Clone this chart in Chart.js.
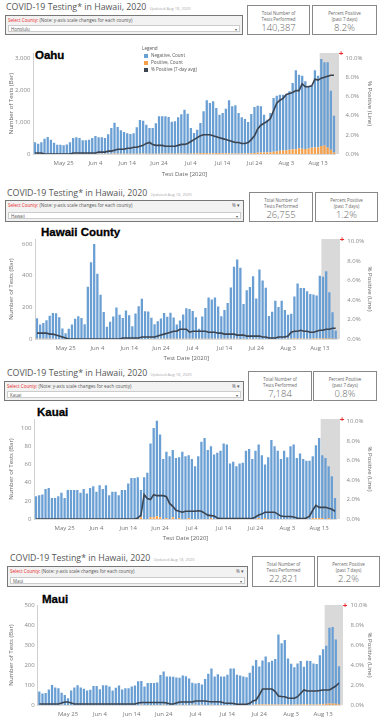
<!DOCTYPE html>
<html>
<head>
<meta charset="utf-8">
<script src="https://cdn.jsdelivr.net/npm/chart.js@4.4.1/dist/chart.umd.min.js"></script>
<style>
  html, body { margin: 0; padding: 0; background: #fff; }
  body { width: 381px; height: 720px; position: relative; overflow: hidden; font-family: 'Open Sans', 'Lato', sans-serif; }
  .abs { position: absolute; }
  .ttl { font-size: 8.8px; line-height: 13px; color: #555; white-space: nowrap; }
  .ttl small { font-size: 4px; color: #aaa; margin-left: 3px; }
  .sel { position: absolute; border: 1px solid #777; background: #f2f2f2; box-sizing: border-box; }
  .sel .r1 { position: absolute; left: 2px; top: 1px; font-size: 4.6px; line-height: 7px; color: #555; white-space: nowrap; }
  .sel .r1 b { color: #e8282b; font-weight: 400; }
  .sel .ic { position: absolute; right: 3px; top: 1px; font-size: 4.6px; line-height: 7px; color: #555; }
  .sel .r2 { position: absolute; left: 2px; right: 2px; bottom: 2px; height: 7px; background: #fff; border: 1px solid #ccc;
             font-size: 4.4px; line-height: 7px; color: #555; padding-left: 2px; box-sizing: border-box; }
  .sel .r2 span { position: absolute; right: 2px; top: 0; }
  .card { position: absolute; border: 1px solid #888; box-sizing: border-box; text-align: center; color: #666; background: #fff; }
  .card .l { font-size: 4.4px; line-height: 6px; margin-top: 4px; }
  .card .v { font-size: 9.5px; line-height: 11px; margin-top: 0px; font-weight: 300; }
  .cty { position: absolute; font-family: 'Liberation Sans', Arial, sans-serif; font-weight: 700; font-size: 11.5px; line-height: 14px; color: #000; -webkit-text-stroke: 0.3px #000; }
  .legend { font-size: 4.6px; color: #555; line-height: 7px; }
  .legend i { display: inline-block; width: 4px; height: 4px; margin: 0 3px 0 2px; vertical-align: -0.5px; }
  canvas { position: absolute; left: 0; }
</style>
</head>
<body>

<!-- Oahu -->
<div class="abs ttl" style="left:6px;top:1px;">COVID-19 Testing* in Hawaii, 2020<small>Updated Aug 18, 2020</small></div>
<div class="sel" style="left:5px;top:15px;width:238px;height:20px;">
  <div class="r1"><b>Select County:</b> (Note: y-axis scale changes for each county)</div>
  <div class="r2">Honolulu<span>▾</span></div>
</div>
<div class="card" style="left:247px;top:5px;width:63px;height:30px;"><div class="l">Total Number of<br>Tests Performed</div><div class="v">140,387</div></div>
<div class="card" style="left:312px;top:5px;width:65px;height:30px;"><div class="l">Percent Positive<br>(past 7 days)</div><div class="v">8.2%</div></div>
<div class="cty" style="left:35px;top:48px;">Oahu</div>
<canvas id="oahu" width="381" height="144" style="top:36px"></canvas>
<div class="abs legend" style="left:142px;top:45px;">
  <div>Legend</div>
  <div><i style="background:#6a9fd4"></i>Negative, Count</div>
  <div><i style="background:#f5a04a"></i>Positive, Count</div>
  <div><i style="background:#3b4450"></i>% Positive (7-day avg)</div>
</div>

<!-- Hawaii -->
<div class="abs ttl" style="left:7px;top:187px;">COVID-19 Testing* in Hawaii, 2020<small>Updated Aug 18, 2020</small></div>
<div class="sel" style="left:5px;top:200px;width:239px;height:22px;">
  <div class="r1"><b>Select County:</b> (Note: y-axis scale changes for each county)</div>
  <div class="ic">% ▾</div>
  <div class="r2">Hawaii<span>▾</span></div>
</div>
<div class="card" style="left:249px;top:192px;width:64px;height:30px;"><div class="l">Total Number of<br>Tests Performed</div><div class="v">26,755</div></div>
<div class="card" style="left:315px;top:192px;width:63px;height:30px;"><div class="l">Percent Positive<br>(past 7 days)</div><div class="v">1.2%</div></div>
<div class="cty" style="left:41px;top:225px;">Hawaii County</div>
<canvas id="hawaii" width="381" height="139" style="top:225px"></canvas>

<!-- Kauai -->
<div class="abs ttl" style="left:7px;top:367px;">COVID-19 Testing* in Hawaii, 2020<small>Updated Aug 18, 2020</small></div>
<div class="sel" style="left:4px;top:381px;width:240px;height:20px;">
  <div class="r1"><b>Select County:</b> (Note: y-axis scale changes for each county)</div>
  <div class="ic">% ▾</div>
  <div class="r2">Kauai<span>▾</span></div>
</div>
<div class="card" style="left:248px;top:371px;width:64px;height:30px;"><div class="l">Total Number of<br>Tests Performed</div><div class="v">7,184</div></div>
<div class="card" style="left:313px;top:371px;width:64px;height:30px;"><div class="l">Percent Positive<br>(past 7 days)</div><div class="v">0.8%</div></div>
<div class="cty" style="left:37px;top:405px;">Kauai</div>
<canvas id="kauai" width="381" height="139" style="top:405px"></canvas>

<!-- Maui -->
<div class="abs ttl" style="left:10px;top:552px;">COVID-19 Testing* in Hawaii, 2020<small>Updated Aug 18, 2020</small></div>
<div class="sel" style="left:7px;top:566px;width:241px;height:21px;">
  <div class="r1"><b>Select County:</b> (Note: y-axis scale changes for each county)</div>
  <div class="ic">% ▾</div>
  <div class="r2">Maui<span>▾</span></div>
</div>
<div class="card" style="left:252px;top:556px;width:63px;height:31px;"><div class="l">Total Number of<br>Tests Performed</div><div class="v">22,821</div></div>
<div class="card" style="left:317px;top:556px;width:63px;height:31px;"><div class="l">Percent Positive<br>(past 7 days)</div><div class="v">2.2%</div></div>
<div class="cty" style="left:42px;top:592px;">Maui</div>
<canvas id="maui" width="381" height="130" style="top:590px"></canvas>

<script>
// Test dates: May 16 .. Aug 18, 2020 (one bar per day)
const dayCount = 95;
const dates = [];
for (let i = 0; i < dayCount; i++) {
  const d = new Date(2020, 4, 16 + i);
  dates.push(d.toLocaleDateString('en-US', { month: 'short', day: 'numeric' }));
}
const tickDates = ['May 25', 'Jun 4', 'Jun 14', 'Jun 24', 'Jul 4', 'Jul 14', 'Jul 24', 'Aug 3', 'Aug 13'];
const shadeFrom = 'Aug 14'; // last days, results still coming in
const pctTicks = [0, 2, 4, 6, 8, 10];

// Oahu (Honolulu)
const oahuTicks = [0, 1000, 2000, 3000];
const oahuNegative = [
  362,321,362,475,527,445,352,290,290,270,298,362,496,517,497,424,
  425,445,496,559,517,516,494,607,802,967,835,733,682,641,620,644,825,1052,1030,906,802,803,950,1167,1164,1163,1143,998,1010,1132,
  1224,1371,1249,800,640,736,939,1302,1649,1568,1621,1410,1197,1254,1391,1655,1472,1504,1265,1131,1080,984,1228,1439,1472,1442,1184,1029,1225,1680,1741,
  1756,1742,1734,1824,2069,2463,2303,2282,2111,1965,1940,2409,2234,2721,2603,2660,1849,1150
];
const oahuPositive = [
  3,2,3,4,4,3,2,2,2,1,2,3,4,4,3,3,
  2,3,4,3,4,5,6,8,10,12,9,7,6,5,5,6,8,10,12,11,10,9,8,10,13,14,13,12,11,14,
  16,14,11,12,16,24,30,31,28,26,25,28,32,27,26,22,18,17,16,15,14,16,22,30,38,48,45,44,56,70,82,
  98,112,120,134,150,152,176,166,160,170,195,206,214,248,262,205,130,48
];
const oahuPct = [
  0.1,0.1,0.1,0,0,0,0,0,0,0,0,0,0.1,0.1,0.1,0.1,
  0.1,0.1,0.1,0.1,0.2,0.2,0.2,0.3,0.3,0.4,0.5,0.5,0.5,0.6,0.6,0.7,0.7,0.8,0.9,1.1,1.2,1.0,0.9,0.9,0.9,0.8,0.8,0.8,0.8,0.9,
  1.0,1.0,1.1,1.3,1.5,1.7,1.9,2.0,2.0,2.0,1.9,1.8,1.7,1.6,1.5,1.4,1.3,1.2,1.2,1.1,1.1,1.2,1.5,1.9,2.6,3.0,3.2,3.4,3.7,4.5,5.3,
  5.6,5.8,6.2,6.3,6.4,6.6,6.6,7.3,7.0,7.0,7.1,7.8,7.7,7.9,8.0,8.1,8.2,8.2
];

// Hawaii County
const hawaiiTicks = [0, 200, 400, 600];
const hawaiiNegative = [
  130,90,100,117,146,163,163,138,67,36,65,92,128,144,132,94,
  330,485,600,412,280,170,77,109,142,199,153,132,180,150,80,161,207,255,176,174,134,94,111,128,163,140,165,134,90,115,
  153,192,188,176,136,63,140,195,262,249,262,205,142,182,226,324,456,502,450,220,308,328,397,255,439,370,324,146,172,241,203,
  241,182,153,157,266,349,320,320,299,282,278,272,397,391,425,293,167,52
];
const hawaiiPositive = [
  1,1,1,1,1,1,0,0,0,0,0,0,0,0,0,0,
  0,0,0,0,0,0,0,0,0,0,0,0,0,0,0,0,0,0,0,0,1,0,1,1,1,1,1,2,2,2,
  2,2,1,1,1,1,2,1,1,1,1,1,1,2,2,1,1,1,0,1,0,1,0,1,0,0,0,0,0,0,0,
  0,1,1,2,3,2,3,2,2,2,3,3,3,3,3,3,2,1
];
const hawaiiPct = [
  0.6,0.6,0.6,0.6,0.5,0.5,0.4,0.3,0.2,0.1,0,0,0,0,0,0,
  0,0,0,0,0,0,0,0,0,0,0,0.1,0.1,0.1,0.1,0.1,0.1,0.2,0.2,0.2,0.2,0.2,0.3,0.4,0.5,0.6,0.7,0.8,0.8,1.0,
  1.0,1.0,0.7,0.8,0.8,0.8,0.8,0.8,0.7,0.7,0.7,0.6,0.6,0.5,0.5,0.5,0.5,0.4,0.4,0.4,0.3,0.3,0.3,0.3,0.3,0.2,0.2,0.1,0.1,0.1,0.2,
  0.2,0.2,0.3,0.7,0.8,0.8,0.9,0.8,0.8,0.7,0.7,0.8,0.9,0.9,1.0,1.0,1.1,1.1
];

// Kauai
const kauaiTicks = [0, 20, 40, 60, 80, 100];
const kauaiNegative = [
  25,26,27,33,34,23,23,25,29,23,32,32,32,32,29,33,
  28,34,36,30,37,33,37,26,30,30,26,32,32,39,45,45,46,30,46,51,81,98,105,91,66,73,69,74,67,67,
  74,69,69,66,58,69,85,89,76,79,71,73,75,83,82,61,63,58,61,62,75,77,66,75,81,70,59,68,87,80,75,
  66,75,68,80,82,67,72,66,64,64,68,80,88,69,67,57,47,23
];
const kauaiPositive = [
  0,0,0,0,0,0,0,0,0,0,0,0,0,0,0,0,
  0,0,0,0,0,0,0,0,0,0,0,0,0,0,0,0,0,2,0,0,2,2,3,2,0,1,0,2,0,1,
  0,0,1,0,0,0,0,0,0,1,0,0,0,0,0,0,0,0,0,0,0,0,0,0,1,0,1,0,0,0,0,
  0,0,0,0,0,0,0,0,0,0,1,1,1,1,0,1,0,0
];
const kauaiPct = [
  0,0,0,0,0,0,0,0,0,0,0,0,0,0,0,0,
  0,0,0,0,0,0,0,0,0,0,0,0,0,0,0,0,0.1,0.4,2.5,2.1,2.0,2.5,2.4,2.4,2.4,2.3,1.6,1.3,0.9,0.8,
  0.7,0.8,0.8,0.8,0.8,0.85,0.8,0.6,0.4,0.35,0.3,0.1,0.05,0.05,0.05,0.05,0.05,0.05,0.05,0.05,0.05,0.05,0.05,0.2,0.4,0.5,0.7,0.7,0.7,0.7,0.5,
  0.3,0.25,0.25,0.25,0.2,0.1,0.05,0.05,0.1,0.3,0.9,1.4,1.2,1.2,1.2,1.1,1.0,0.8
];

// Maui
const mauiTicks = [0, 100, 200, 300, 400, 500];
const mauiNegative = [
  68,58,60,77,100,87,84,60,50,34,73,87,99,87,81,73,
  76,95,95,79,99,99,93,73,86,97,77,84,84,93,97,119,119,92,110,110,110,113,150,166,143,143,141,137,135,148,
  143,133,110,107,110,102,130,156,182,143,154,143,143,151,182,182,151,148,143,139,161,195,223,190,218,240,210,218,228,350,307,
  323,231,205,187,205,217,187,217,217,205,202,245,275,290,378,382,322,190
];
const mauiPositive = [
  0,0,0,0,0,0,0,1,0,0,0,0,0,0,0,0,
  0,0,0,0,0,0,0,0,0,0,0,0,0,0,0,0,1,0,0,0,0,0,0,1,0,0,0,0,1,0,
  1,0,1,1,0,1,0,0,1,0,0,0,0,0,0,0,0,0,0,0,0,1,2,3,4,3,4,3,2,2,2,
  2,2,1,2,2,3,4,4,3,3,3,4,4,6,8,8,6,4
];
const mauiPct = [
  0.1,0.1,0.1,0.1,0.1,0.1,0.1,0.2,0.3,0.3,0.2,0.1,0.1,0.1,0.1,0.1,
  0.1,0.1,0.1,0.1,0.1,0.1,0.1,0.1,0.1,0.1,0.1,0.1,0.1,0.1,0.1,0.2,0.25,0.25,0.25,0.25,0.25,0.25,0.25,0.25,0.2,0.1,0.1,0.2,0.3,0.3,
  0.3,0.3,0.3,0.4,0.4,0.4,0.4,0.35,0.33,0.33,0.33,0.3,0.2,0.17,0.17,0.15,0.07,0.07,0.07,0.07,0.17,0.4,0.5,1.0,1.6,1.6,1.6,1.6,1.35,0.9,0.85,
  0.83,0.7,0.67,0.67,0.83,1.17,1.5,1.4,1.4,1.4,1.4,1.45,1.5,1.5,1.5,1.7,1.9,2.2
];

const NEG_COLOR = '#6a9fd4';
const POS_COLOR = '#f5a04a';
const LINE_COLOR = '#3b4450';

// grey band over the most recent days + small red marker
const shadePlugin = {
  id: 'shade',
  beforeDatasetsDraw(chart, args, opts) {
    const { ctx, chartArea: a, scales: { x } } = chart;
    const i = dates.indexOf(shadeFrom);
    const half = (x.getPixelForValue(1) - x.getPixelForValue(0)) / 2;
    const x0 = x.getPixelForValue(i) - half;
    ctx.save();
    ctx.fillStyle = '#d9d9d9';
    ctx.fillRect(x0, a.top, a.right + opts.extra - x0, a.bottom - a.top);
    ctx.restore();
  },
  afterDraw(chart, args, opts) {
    const { ctx, chartArea: a } = chart;
    ctx.save();
    ctx.fillStyle = '#e8282b';
    ctx.font = 'bold 8px "Liberation Sans", sans-serif';
    ctx.textAlign = 'center';
    ctx.textBaseline = 'middle';
    ctx.fillText('+', a.right + opts.extra + 2, a.top + 1);
    ctx.restore();
  }
};

function drawCounty(id, neg, pos, pct, yTicks, g) {
  const tickFont = { family: "'Open Sans', sans-serif", size: 6 };
  new Chart(document.getElementById(id), {
    type: 'bar',
    data: {
      labels: dates,
      datasets: [
        { type: 'line', label: '% Positive (7-day avg)', data: pct, yAxisID: 'y1', borderColor: LINE_COLOR,
          borderWidth: 1.6, pointRadius: 0, order: 0 },
        { label: 'Positive, Count', data: pos, backgroundColor: POS_COLOR, yAxisID: 'y', order: 1,
          barPercentage: 0.72, categoryPercentage: 1 },
        { label: 'Negative, Count', data: neg, backgroundColor: NEG_COLOR, yAxisID: 'y', order: 1,
          barPercentage: 0.72, categoryPercentage: 1 }
      ]
    },
    options: {
      responsive: false,
      animation: false,
      devicePixelRatio: 1,
      layout: { padding: { top: g.padTop, left: 0, right: 0, bottom: 0 } },
      plugins: { legend: { display: false }, tooltip: { enabled: false }, shade: { extra: g.extra } },
      scales: {
        x: {
          stacked: true,
          grid: { display: false, drawTicks: false },
          border: { color: '#dcdcdc' },
          ticks: { autoSkip: false, maxRotation: 0, padding: 6, font: tickFont, color: '#777',
                   callback: (v, i) => tickDates.includes(dates[i]) ? dates[i] : '' },
          title: { display: g.xTitle, text: 'Test Date [2020]', font: tickFont, color: '#666', padding: { top: 0, bottom: 2.4 } },
          afterFit: s => { s.height = g.xH; }
        },
        y: {
          stacked: true, min: 0, max: g.yMax,
          grid: { display: false, drawTicks: false },
          border: { color: '#d0d0d0' },
          afterBuildTicks: s => { s.ticks = yTicks.map(v => ({ value: v })); },
          ticks: { padding: 3, font: tickFont, color: '#888', callback: v => v.toLocaleString('en-US') },
          title: { display: true, text: 'Number of Tests (Bar)', font: tickFont, color: '#666', padding: { top: 7.5, bottom: 0 } },
          afterFit: s => { s.width = g.left; }
        },
        y1: {
          position: 'right', min: 0, max: g.pMax,
          grid: { display: false, drawTicks: false },
          border: { display: false },
          afterBuildTicks: s => { s.ticks = pctTicks.map(v => ({ value: v })); },
          ticks: { padding: 10, font: tickFont, color: '#888', callback: v => v.toFixed(1) + '%' },
          title: { display: true, text: '% Positive (Line)', font: tickFont, color: '#666', padding: { top: 7.5, bottom: 0 } },
          afterFit: s => { s.width = g.rightW; }
        }
      }
    },
    plugins: [shadePlugin]
  });
}

drawCounty('oahu', oahuNegative, oahuPositive, oahuPct, oahuTicks,
  { padTop: 17, xH: 26, left: 33.4, rightW: 45.4, extra: 3.4, yMax: 3156, pMax: 10.52, xTitle: true });
drawCounty('hawaii', hawaiiNegative, hawaiiPositive, hawaiiPct, hawaiiTicks,
  { padTop: 14, xH: 25, left: 35.4, rightW: 43.7, extra: 2.7, yMax: 632, pMax: 10.28, xTitle: true });
drawCounty('kauai', kauaiNegative, kauaiPositive, kauaiPct, kauaiTicks,
  { padTop: 14, xH: 25, left: 34.4, rightW: 44.4, extra: 3.4, yMax: 110, pMax: 10.28, xTitle: true });
drawCounty('maui', mauiNegative, mauiPositive, mauiPct, mauiTicks,
  { padTop: 15, xH: 15, left: 37.7, rightW: 40.4, extra: 2.4, yMax: 500, pMax: 10, xTitle: false });
</script>
</body>
</html>
